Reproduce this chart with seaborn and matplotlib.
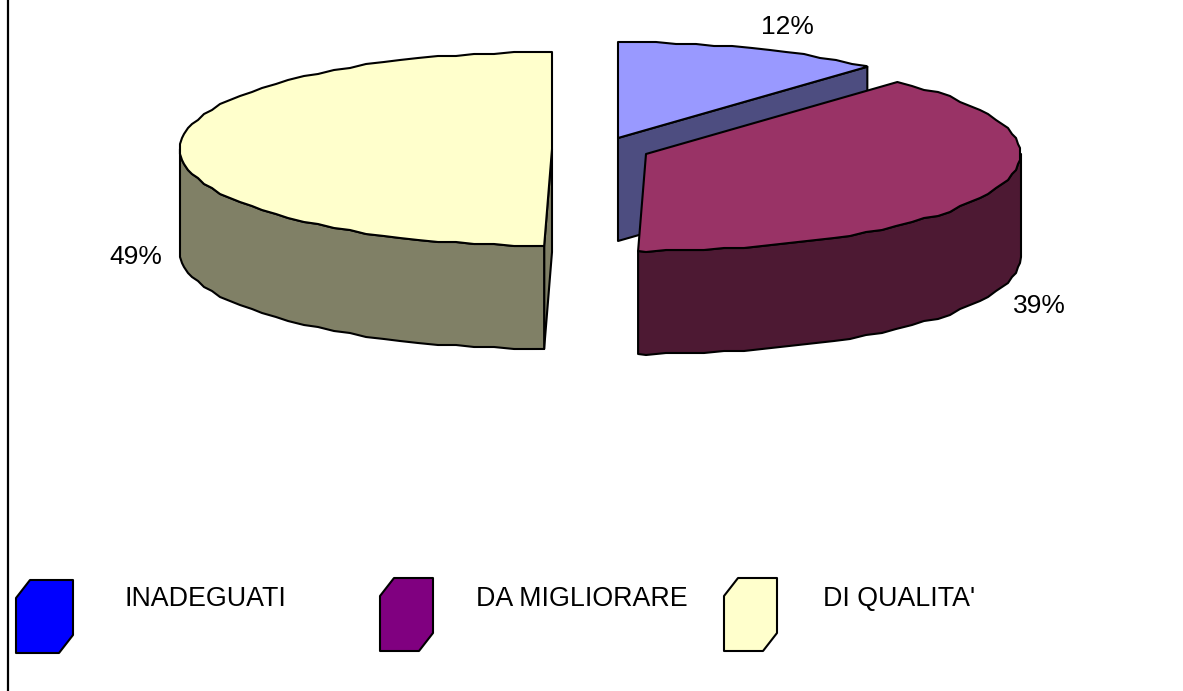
import numpy as np
import matplotlib
matplotlib.use("Agg")
import matplotlib.pyplot as plt
import seaborn as sns

# values, kept unrounded so the slice edges land where they do in the picture
categories = ["INADEGUATI", "DA MIGLIORARE", "DI QUALITA'"]
values = [11.65, 38.51, 49.49]
top_colors = ["#9999FF", "#993366", "#FFFFCC"]
side_colors = ["#4D4D80", "#4D1933", "#808066"]
legend_colors = ["#0000FF", "#800080", "#FFFFCC"]

sns.set_theme(style="white")
plt.rcParams["font.family"] = ["Liberation Sans", "DejaVu Sans"]

fig, ax = plt.subplots(figsize=(11.83, 6.91), dpi=100)
fig.subplots_adjust(left=0, right=1, top=1, bottom=0)
ax.set_xlim(0, 1183)
ax.set_ylim(691, 0)
ax.axis("off")

depth = 103
lw = 1.5
# slice centres after the explosion, in pixels
centers = [(618, 138), (646, 154), (552, 149)]
rx = [372, 375, 372]
ry = [96, 97, 97]

# cumulative angles, clockwise from the top
fr = np.cumsum([0] + values) / np.sum(values) * 360


def arc(i, a, b):
    # same angle grid for every arc, rounding gives the stepped outline
    grid = np.arange(0, 361, 3.0)
    ang = np.r_[a, grid[(grid > a) & (grid < b)], b]
    t = np.radians(ang)
    x = centers[i][0] + rx[i] * np.sin(t)
    y = centers[i][1] - ry[i] * np.cos(t)
    x[1:-1] = np.round(x[1:-1] / 2) * 2
    y[1:-1] = np.round(y[1:-1] / 2) * 2
    return x, y


def poly(x, y, color):
    ax.fill(x, y, facecolor=color, edgecolor="black", linewidth=lw, joinstyle="round")


def top(i):
    x, y = arc(i, fr[i], fr[i + 1])
    cx, cy = centers[i]
    poly(np.r_[cx, x], np.r_[cy, y], top_colors[i])


def wall(i, ang):
    # flat cut face between the centre and the rim
    x, y = arc(i, ang, ang)
    cx, cy = centers[i]
    poly([cx, x[0], x[0], cx], [cy, y[0], y[0] + depth, cy + depth], side_colors[i])


def rim(i, a, b):
    x, y = arc(i, a, b)
    poly(np.r_[x, x[::-1]], np.r_[y, y[::-1] + depth], side_colors[i])


# yellow slice
wall(2, fr[2])
rim(2, fr[2], 270)
top(2)
# blue slice
wall(0, fr[1])
top(0)
# purple slice sits in front of the blue one
rim(1, 90, fr[2])
top(1)

# percent labels
label_pos = [(787, 27), (1039, 306), (136, 257)]
for v, (lx, ly) in zip(values, label_pos):
    ax.text(lx, ly, f"{v:.0f}%", ha="center", va="center", fontsize=19, color="black")

# legend with the cut-corner swatches
legend_x = [16, 380, 724]
legend_y = [580, 578, 578]
legend_w = [57, 53, 53]
text_x = [125, 476, 823]
for name, c, lx, ly, w, tx in zip(categories, legend_colors, legend_x, legend_y, legend_w, text_x):
    sx = [lx, lx + 14, lx + w, lx + w, lx + w - 14, lx]
    sy = [ly + 18, ly, ly, ly + 55, ly + 73, ly + 73]
    poly(sx, sy, c)
    ax.text(tx, 599, name, ha="left", va="center", fontsize=19.3, color="black")

# left border of the chart area
ax.plot([8, 8], [0, 691], color="black", linewidth=1.6)

fig.savefig("out.png", dpi=100)
